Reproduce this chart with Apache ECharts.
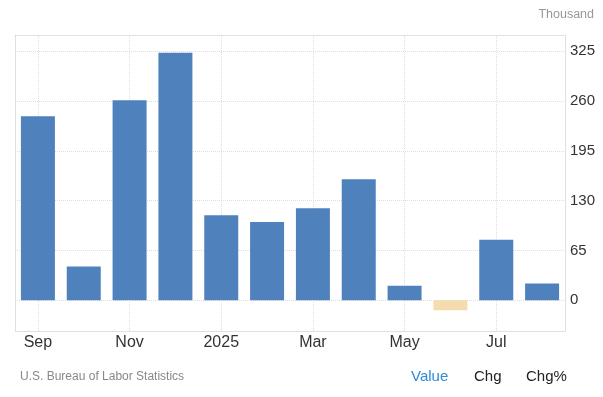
<!DOCTYPE html>
<html>
<head>
<meta charset="utf-8">
<script src="https://cdn.jsdelivr.net/npm/echarts@6/dist/echarts.min.js"></script>
<style>
html,body{margin:0;padding:0;background:#fff;}
#chart{width:603px;height:397px;}
</style>
</head>
<body>
<div id="chart"></div>
<script>
// 数据 (Thousand)
var months = ['Sep','Oct','Nov','Dec','Jan','Feb','Mar','Apr','May','Jun','Jul','Aug'];
var tickLabels = ['Sep','','Nov','','2025','','Mar','','May','','Jul',''];
var values = [240, 44, 261, 323, 111, 102, 120, 158, 19, -13, 79, 22];
var yTicks = [0, 65, 130, 195, 260, 325];
var gridMonths = ['Sep','Nov','Jan','Mar','May','Jul'];

var blue = '#4f81bd';
var tan = '#f5dcae';
var gridColor = '#dddddd';
var font = 'Liberation Sans, Arial, sans-serif';

var myChart = echarts.init(document.getElementById('chart'));

// 正数蓝色,负数浅黄
var barData = values.map(function(v){
	return { value: v, itemStyle: { color: v < 0 ? tan : blue } };
});

myChart.setOption({
	animation: false,
	title: {
		text: 'Thousand',
		right: 4,
		top: 3,
		textStyle: { fontSize: 12.5, fontWeight: 'normal', color: '#999', fontFamily: font }
	},
	grid: { left: 15, right: 38, top: 35, bottom: 66 },
	xAxis: [{
		type: 'category',
		data: months,
		axisLine: { onZero: false, lineStyle: { color: '#e0e0e0' } },
		axisTick: { show: false },
		axisLabel: {
			interval: 0,
			margin: 4,
			color: '#333',
			fontSize: 16,
			fontFamily: font,
			formatter: function(v, i){ return tickLabels[i]; }
		},
		splitLine: { show: false }
	}, {
		type: 'category',
		data: months,
		position: 'top',
		axisLine: { show: true, onZero: false, lineStyle: { color: gridColor, type: 'dotted' } },
		axisTick: { show: false },
		axisLabel: { show: false }
	}],
	yAxis: [{
		type: 'value',
		position: 'right',
		min: -40,
		max: 346,
		axisLine: { show: true, lineStyle: { color: '#e0e0e0' } },
		axisTick: { show: false, customValues: yTicks },
		axisLabel: {
			customValues: yTicks,
			margin: 5,
			color: '#333',
			fontSize: 15,
			fontFamily: font,
			padding: [0, 0, 6, 0]
		},
		splitLine: { show: true, lineStyle: { color: gridColor, type: 'dotted' } }
	}, {
		type: 'value',
		position: 'left',
		min: -40,
		max: 346,
		axisLine: { show: true, lineStyle: { color: '#e0e0e0' } },
		axisTick: { show: false },
		axisLabel: { show: false },
		splitLine: { show: false }
	}],
	series: [{
		type: 'bar',
		data: barData,
		barWidth: 34,
		markLine: {
			silent: true,
			symbol: 'none',
			z: 0,
			label: { show: false },
			lineStyle: { color: gridColor, type: 'dotted', width: 1 },
			data: gridMonths.map(function(m){ return { xAxis: m }; })
		}
	}],
	graphic: [{
		type: 'text', left: 20, top: 371,
		style: { text: 'U.S. Bureau of Labor Statistics', fill: '#888', font: '12px ' + font }
	}, {
		type: 'text', left: 411, top: 369,
		style: { text: 'Value', fill: '#2e8bd6', font: '15px ' + font }
	}, {
		type: 'text', left: 474, top: 369,
		style: { text: 'Chg', fill: '#222', font: '15px ' + font }
	}, {
		type: 'text', left: 526, top: 369,
		style: { text: 'Chg%', fill: '#222', font: '15px ' + font }
	}]
});
</script>
</body>
</html>
